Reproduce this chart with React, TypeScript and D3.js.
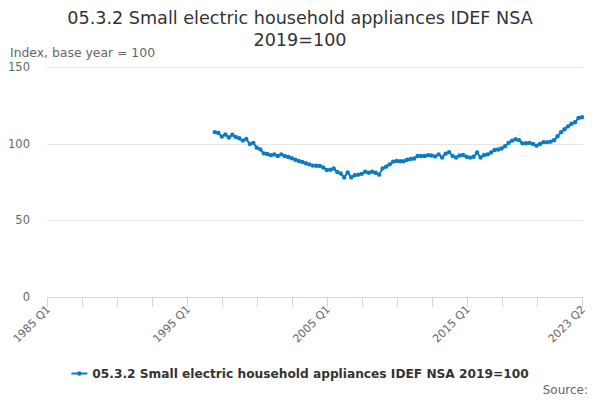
import { useEffect, useRef } from 'react';
import * as d3 from 'd3';

// quarterly index values, 1997 Q1 .. 2023 Q2
const startYear = 1997;
const values = [
  107.5, 107, 104.6, 106,
  104, 105.8, 104.3, 103.5,
  102, 103, 99.8, 100.5,
  97.4, 96.3, 93.7, 93.3,
  92.5, 93, 92, 93,
  92, 91.3, 90.5, 89.5,
  88.7, 88, 87.2, 86.5,
  85.7, 85.6, 85.5, 84.5,
  82.8, 83, 83.8, 81.5,
  80.5, 78, 81.3, 78,
  79.4, 79.8, 80.3, 81.7,
  81, 81.7, 81, 79.8,
  83.9, 85, 86.5, 88.3,
  88.7, 88.5, 88.5, 89.5,
  90, 90.3, 92, 92,
  92, 92.5, 92.3, 91.7,
  93, 91, 93.5, 94.5,
  92, 91, 92.3, 92.6,
  91.5, 90.9, 91.5, 94.2,
  91, 92.6, 93, 94.2,
  95.9, 96.2, 96.8, 98.3,
  100.5, 102, 102.9, 102.3,
  100.2, 100.3, 100.5, 99.8,
  98.7, 99.8, 101, 101,
  101.3, 102.2, 104.8, 107.5,
  109.4, 111.3, 113, 114,
  116.7, 117.2,
];

const yTicks = [0, 50, 100, 150];
const xLabels = ['1985 Q1', '1995 Q1', '2005 Q1', '2015 Q1', '2023 Q2'];

const title = '05.3.2 Small electric household appliances IDEF NSA 2019=100';
const yTitle = 'Index, base year = 100';
const sourceText = 'Source:';

const font = '"DejaVu Sans", sans-serif';
const lineColor = '#0b7cc2';

// quarter index counted from 1985 Q1
const qIndex = (label: string) => {
  const [y, q] = label.split(' Q');
  return (+y - 1985) * 4 + (+q - 1);
};

const App = () => {
  const svgRef = useRef<SVGSVGElement>(null);

  useEffect(() => {
    if (!svgRef.current) return;
    const svg = d3.select(svgRef.current);
    svg.selectAll('*').remove();

    const width = 600, height = 400;
    const left = 47, right = 582, top = 67, bottom = 297;
    const lastQ = qIndex('2023 Q2');

    const x = d3.scaleLinear().domain([0, lastQ]).range([left, right]);
    const y = d3.scaleLinear().domain([0, 150]).range([bottom, top]);

    svg.append('rect').attr('width', width).attr('height', height).attr('fill', '#fff');

    // title
    const t = svg.append('text')
      .attr('x', width / 2)
      .attr('text-anchor', 'middle')
      .style('font-family', font)
      .style('font-size', '17.6px')
      .style('fill', '#333');
    t.append('tspan').attr('x', width / 2).attr('y', 24).text('05.3.2 Small electric household appliances IDEF NSA');
    t.append('tspan').attr('x', width / 2).attr('y', 46).text('2019=100');

    svg.append('text')
      .attr('x', 10).attr('y', 57)
      .style('font-family', font).style('font-size', '12.4px').style('fill', '#666')
      .text(yTitle);

    // grid + y labels
    const yAxis = svg.append('g');
    yTicks.forEach(v => {
      if (v > 0) {
        yAxis.append('line')
          .attr('x1', left).attr('x2', right + 1)
          .attr('y1', Math.round(y(v)) + 0.5).attr('y2', Math.round(y(v)) + 0.5)
          .attr('stroke', '#e6e6e6');
      }
      yAxis.append('text')
        .attr('x', 30).attr('y', y(v) + 4)
        .attr('text-anchor', 'end')
        .style('font-family', font).style('font-size', '11.5px').style('fill', '#666')
        .text(v);
    });

    // x axis
    const xAxis = svg.append('g');
    xAxis.append('line')
      .attr('x1', left).attr('x2', right + 1)
      .attr('y1', bottom + 0.5).attr('y2', bottom + 0.5)
      .attr('stroke', '#ccd6eb');
    const ticks = d3.range(0, lastQ - 5, 10).concat([lastQ]);
    ticks.forEach(q => {
      xAxis.append('line')
        .attr('x1', Math.round(x(q)) + 0.5).attr('x2', Math.round(x(q)) + 0.5)
        .attr('y1', bottom).attr('y2', bottom + 10)
        .attr('stroke', '#ccd6eb');
    });
    xLabels.forEach(l => {
      const px = x(qIndex(l));
      xAxis.append('text')
        .attr('transform', `translate(${px + 4},${bottom + 13}) rotate(-45)`)
        .attr('text-anchor', 'end')
        .style('font-family', font).style('font-size', '11px').style('fill', '#666')
        .text(l);
    });

    // series
    const startQ = qIndex(`${startYear} Q1`);
    const pts = values.map((v, i) => [x(startQ + i), y(v)] as [number, number]);
    svg.append('path')
      .attr('d', d3.line()(pts))
      .attr('fill', 'none')
      .attr('stroke', lineColor)
      .attr('stroke-width', 2);
    svg.append('g').selectAll('circle').data(pts).join('circle')
      .attr('cx', d => d[0]).attr('cy', d => d[1]).attr('r', 2.2)
      .attr('fill', lineColor);

    // legend
    const lg = svg.append('g');
    const legendText = lg.append('text')
      .attr('y', 378)
      .style('font-family', font).style('font-size', '12.2px').style('font-weight', 'bold').style('fill', '#333')
      .text(title);
    const tw = (legendText.node() as SVGTextElement).getComputedTextLength();
    const total = 16 + 5 + tw;
    const lx = width / 2 - total / 2;
    legendText.attr('x', lx + 21);
    lg.append('line')
      .attr('x1', lx).attr('x2', lx + 16).attr('y1', 373.5).attr('y2', 373.5)
      .attr('stroke', lineColor).attr('stroke-width', 2);
    lg.append('circle').attr('cx', lx + 8).attr('cy', 373.5).attr('r', 2.2).attr('fill', lineColor);

    svg.append('text')
      .attr('x', 588).attr('y', 394)
      .attr('text-anchor', 'end')
      .style('font-family', font).style('font-size', '12px').style('fill', '#666')
      .text(sourceText);
  }, []);

  return (
    <svg ref={svgRef} width={600} height={400}
      style={{ position: 'absolute', left: 0, top: 0, display: 'block' }} />
  );
};

export default App;
